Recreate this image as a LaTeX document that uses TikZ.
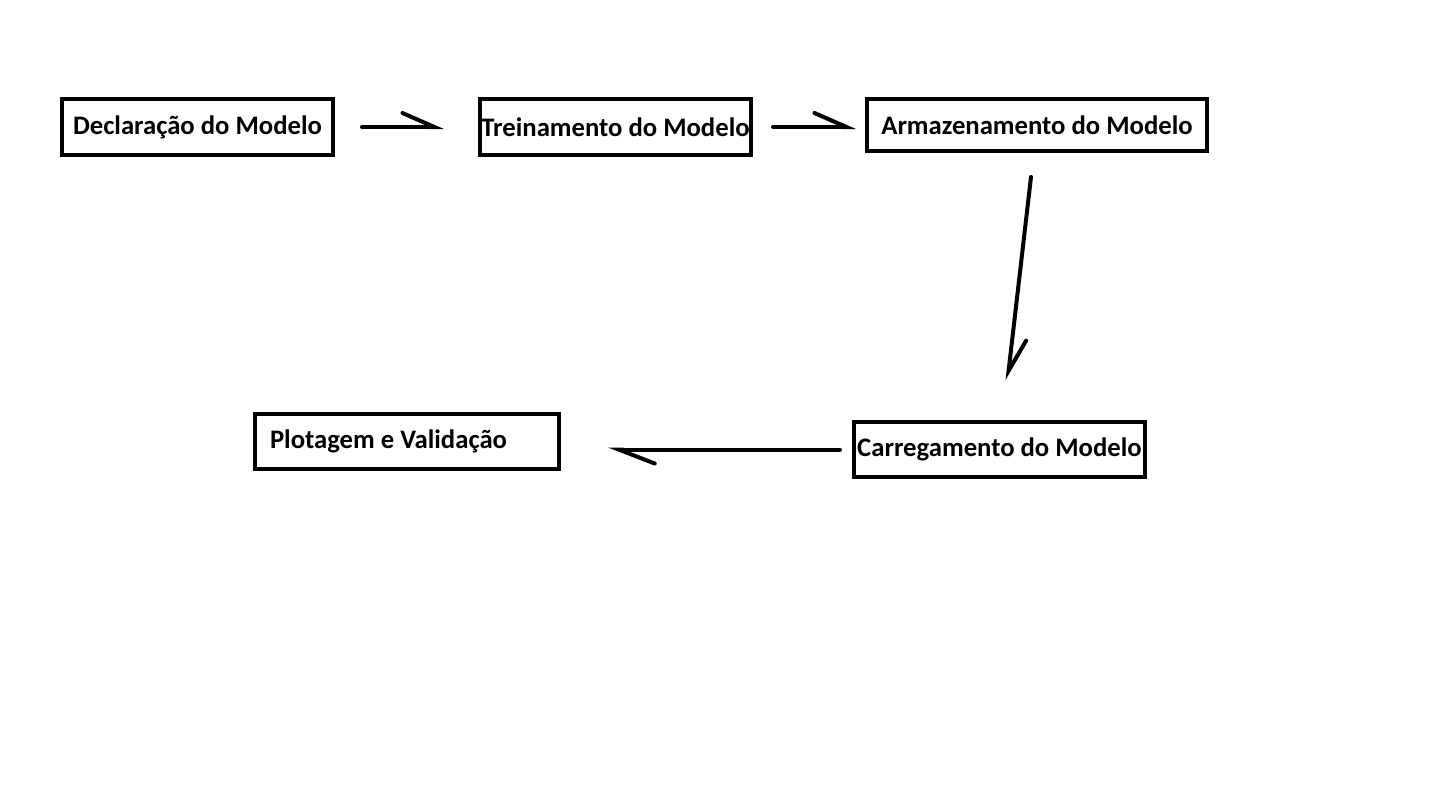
\documentclass[tikz,border=0pt]{standalone}
\usepackage{fontspec}
\setmainfont{Carlito}
\usetikzlibrary{positioning}
\usetikzlibrary{arrows.meta}
\tikzstyle{StepBox}   = [rectangle, draw=black, line width=4pt, inner xsep=0pt, inner ysep=0pt, font=\fontsize{26.7}{32}\selectfont\bfseries, text=black]
\tikzstyle{Flow}      = [line width=4pt, line cap=round, -{Straight Barb[left, length=32pt, width=28pt, line cap=round]}]

\begin{document}
\begin{tikzpicture}[x=1pt, y=1pt]

\useasboundingbox (0,0) rectangle (1450,-793);

%% ------------------------------------------------------------ [ Top row ]
\node (decl) [StepBox, minimum width=271pt, minimum height=56pt]
      at (197.5,-127) {Declaração do Modelo};

\node (trein) [StepBox, minimum width=271pt, minimum height=56pt,
               right = 143pt of decl] {Treinamento do Modelo};

\node (arm) [StepBox, minimum width=340pt, minimum height=52pt,
             right = 112pt of trein, yshift=2pt] {Armazenamento do Modelo};

%% --------------------------------------------------------- [ Bottom row ]
\node (carr) [StepBox, minimum width=291pt, minimum height=55pt]
      at (999.5,-449.5) {Carregamento do Modelo};

\node (plot) [StepBox, minimum height=55pt, inner xsep=15pt,
              left = 291pt of carr, yshift=8pt] {\makebox[274pt][l]{Plotagem e Validação}};

%% ---------------------------------------------------------- [ Arrows ]
\draw [Flow, shorten <=27pt, shorten >=34pt] (decl) -- (trein);
\draw [Flow, shorten <=20pt, shorten >=9pt] (trein.east) -- (trein.east -| arm.west);
\draw [Flow, shorten <=24pt, shorten >=40pt] (arm) -- (carr);
\draw [Flow, shorten <=12pt, shorten >=47pt,
       -{Straight Barb[left, length=36pt, width=28pt, line cap=round]}] (carr.west) -- (carr.west -| plot.east);
\end{tikzpicture}
\end{document}
